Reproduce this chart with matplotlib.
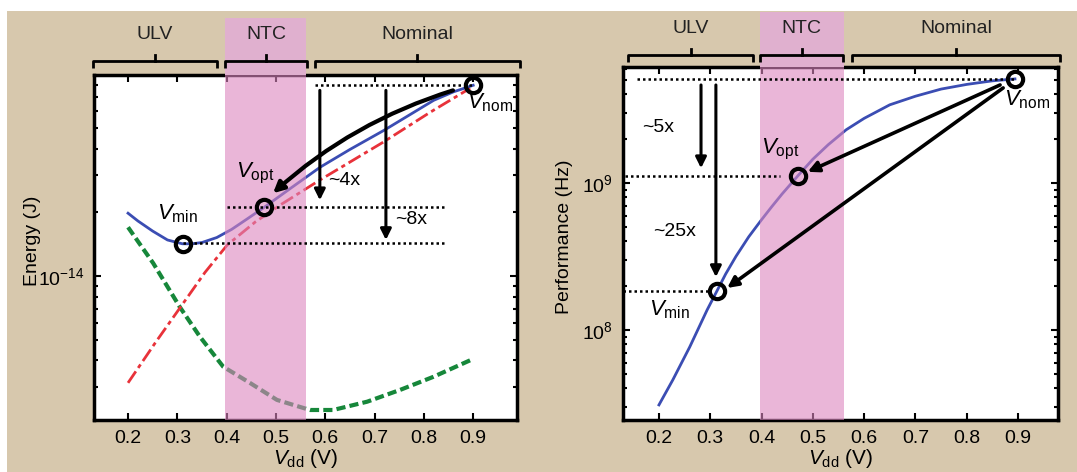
import matplotlib.pyplot as plt
from matplotlib.patches import Rectangle
from matplotlib.ticker import NullFormatter

plt.rcParams['font.family'] = ['Liberation Sans', 'DejaVu Sans']
plt.rcParams['mathtext.fontset'] = 'custom'
plt.rcParams['mathtext.rm'] = 'Liberation Sans'
plt.rcParams['mathtext.it'] = 'Liberation Sans:italic'
plt.rcParams['font.size'] = 14

# energy panel
vdd_total = [0.2, 0.22, 0.25, 0.28, 0.31, 0.33, 0.35, 0.38, 0.41, 0.44, 0.476, 0.53,
             0.59, 0.65, 0.72, 0.82, 0.86, 0.9]
e_total = [1.98e-14, 1.82e-14, 1.63e-14, 1.48e-14, 1.42e-14, 1.42e-14, 1.44e-14,
           1.52e-14, 1.66e-14, 1.85e-14, 2.11e-14, 2.60e-14, 3.27e-14, 3.96e-14,
           4.89e-14, 6.76e-14, 7.41e-14, 7.96e-14]
vdd_dyn = [0.2, 0.255, 0.305, 0.356, 0.401, 0.458, 0.508, 0.589, 0.717, 0.813, 0.894]
e_dyn = [3.13e-15, 4.83e-15, 7.06e-15, 1.04e-14, 1.40e-14, 1.80e-14, 2.16e-14,
         2.84e-14, 4.28e-14, 5.94e-14, 7.71e-14]
vdd_leak = [0.2, 0.251, 0.305, 0.346, 0.393, 0.447, 0.502, 0.569, 0.616, 0.685,
            0.752, 0.819, 0.9]
e_leak = [1.70e-14, 1.15e-14, 7.14e-15, 5.16e-15, 3.73e-15, 3.13e-15, 2.60e-15,
          2.33e-15, 2.33e-15, 2.55e-15, 2.90e-15, 3.34e-15, 4.06e-15]

# energy operating points: Vmin, Vopt, Vnom
e_pts_v = [0.311, 0.476, 0.9]
e_pts_e = [1.42e-14, 2.11e-14, 7.96e-14]

# performance panel
vdd_perf = [0.2, 0.227, 0.26, 0.294, 0.313, 0.33, 0.35, 0.375, 0.40, 0.42, 0.44,
            0.471, 0.5, 0.53, 0.565, 0.6, 0.65, 0.7, 0.75, 0.8, 0.85, 0.894]
perf = [3.09e7, 4.57e7, 7.66e7, 1.37e8, 1.84e8, 2.40e8, 3.16e8, 4.30e8, 5.62e8,
        6.90e8, 8.41e8, 1.12e9, 1.45e9, 1.82e9, 2.30e9, 2.75e9, 3.40e9, 3.89e9,
        4.35e9, 4.68e9, 4.95e9, 5.1e9]
p_pts_v = [0.313, 0.471, 0.894]
p_pts_f = [1.84e8, 1.12e9, 5.1e9]

regions = ['ULV', 'NTC', 'Nominal']
ntc_band = (0.397, 0.56)

PINK = '#dc86bf'
PINK_TOP = '#e0b0cf'
BLUE = '#3b4db3'
RED = '#e8323a'
GREEN = '#16873a'
TAN = '#d7c8ad'

fig = plt.figure(figsize=(10.77, 4.72), dpi=100)
fig.patch.set_facecolor('white')
fig.patches.append(Rectangle((7 / 1077, 0), 1, 461 / 472, transform=fig.transFigure,
                             facecolor=TAN, edgecolor='none', zorder=-10))

ax1 = fig.add_axes([0.0873, 0.1102, 0.3928, 0.7309])
ax2 = fig.add_axes([0.5785, 0.1102, 0.4039, 0.7479])


def style_axes(ax, xlim):
    ax.set_yscale('log')
    ax.set_xlim(*xlim)
    ax.set_xticks([0.2, 0.3, 0.4, 0.5, 0.6, 0.7, 0.8, 0.9])
    ax.set_xticklabels(['0.2', '0.3', '0.4', '0.5', '0.6', '0.7', '0.8', '0.9'])
    ax.yaxis.set_minor_formatter(NullFormatter())
    ax.tick_params(which='both', direction='in', top=True, right=True, width=1.5,
                   labelsize=14, pad=7)
    ax.tick_params(which='major', length=5)
    ax.tick_params(which='minor', length=3)
    for s in ax.spines.values():
        s.set_linewidth(2.5)
    ax.set_xlabel(r'$V_{\rm dd}$ (V)', fontsize=15, labelpad=0)


def band(ax, top):
    ax.axvspan(*ntc_band, ymin=0, ymax=1, color=PINK, alpha=0.6, lw=0, zorder=5)
    ax.axvspan(*ntc_band, ymin=1, ymax=top, color=PINK_TOP, lw=0,
               clip_on=False, zorder=5)


def brackets(ax, spans, y_line, y_hook, y_tip, y_text):
    tr = ax.get_xaxis_transform()
    for name, (a, b) in zip(regions, spans):
        m = (a + b) / 2
        ax.plot([a, a, b, b], [y_hook, y_line, y_line, y_hook], color='k', lw=2,
                transform=tr, clip_on=False, solid_capstyle='butt', zorder=9)
        ax.plot([m, m], [y_line, y_tip], color='k', lw=2, transform=tr,
                clip_on=False, zorder=9)
        ax.text(m, y_text, name, transform=tr, ha='center', va='center', fontsize=14,
                color='#222222', zorder=9)


def dotted(ax, x0, x1, y):
    ax.plot([x0, x1], [y, y], color='k', lw=1.8, ls=(0, (1, 1.2)), zorder=6)


def arrow(ax, start, end, rad=0.0, lw=2.2):
    ax.annotate('', xy=end, xytext=start,
                arrowprops=dict(arrowstyle='-|>', color='k', lw=lw, mutation_scale=16,
                                shrinkA=0, shrinkB=0,
                                connectionstyle='arc3,rad=%s' % rad), zorder=7)


def vlabel(ax, x, y, sub):
    ax.text(x, y, r'$V_{\rm %s}$' % sub, ha='center', va='center', fontsize=16,
            zorder=9)


# ---- left: energy ----
style_axes(ax1, (0.131, 0.989))
ax1.set_ylim(2.09e-15, 8.9e-14)
ax1.plot(vdd_leak, e_leak, color=GREEN, lw=3, ls=(0, (2.2, 1.0)), zorder=3)
ax1.plot(vdd_dyn, e_dyn, color=RED, lw=2, ls=(0, (5, 1.5, 1.5, 1.5)), zorder=3)
ax1.plot(vdd_total, e_total, color=BLUE, lw=2, zorder=4)
band(ax1, 1.165)

dotted(ax1, 0.579, 0.9, e_pts_e[2])
dotted(ax1, 0.401, 0.843, e_pts_e[1])
dotted(ax1, 0.311, 0.843, 1.43e-14)
arrow(ax1, (0.589, 7.53e-14), (0.589, 2.28e-14))
arrow(ax1, (0.723, 7.53e-14), (0.723, 1.48e-14))
arrow(ax1, (0.859, 7.53e-14), (0.494, 2.46e-14), rad=0.11, lw=3)
ax1.text(0.606, 2.84e-14, '~4x', ha='left', va='center', fontsize=14, zorder=9)
ax1.text(0.742, 1.84e-14, '~8x', ha='left', va='center', fontsize=14, zorder=9)
ax1.plot(e_pts_v, e_pts_e, 'o', ms=11, mfc='none', mec='k', mew=3, zorder=8)
vlabel(ax1, 0.301, 1.98e-14, 'min')
vlabel(ax1, 0.458, 3.06e-14, 'opt')
vlabel(ax1, 0.934, 6.55e-14, 'nom')
ax1.set_ylabel('Energy (J)', fontsize=14)
ax1.yaxis.set_label_coords(-0.125, 0.52)
brackets(ax1, [(0.129, 0.381), (0.397, 0.563), (0.579, 0.995)],
         1.041, 1.020, 1.058, 1.116)

# ---- right: performance ----
style_axes(ax2, (0.130, 0.978))
ax2.set_ylim(2.44e7, 6.15e9)
ax2.plot(vdd_perf, perf, color=BLUE, lw=2, zorder=4)
band(ax2, 1.156)
dotted(ax2, 0.157, 0.894, p_pts_f[2])
dotted(ax2, 0.134, 0.436, p_pts_f[1])
dotted(ax2, 0.130, 0.300, p_pts_f[0])
arrow(ax2, (0.282, 4.64e9), (0.282, 1.26e9))
arrow(ax2, (0.311, 4.64e9), (0.311, 2.29e8))
arrow(ax2, (0.865, 4.64e9), (0.490, 1.19e9), lw=2.6)
arrow(ax2, (0.871, 4.43e9), (0.333, 1.93e8), lw=2.6)
ax2.text(0.198, 2.40e9, '~5x', ha='center', va='center', fontsize=14, zorder=9)
ax2.text(0.231, 4.64e8, '~25x', ha='center', va='center', fontsize=14, zorder=9)
ax2.plot(p_pts_v, p_pts_f, 'o', ms=11, mfc='none', mec='k', mew=3, zorder=8)
vlabel(ax2, 0.221, 1.37e8, 'min')
vlabel(ax2, 0.436, 1.68e9, 'opt')
vlabel(ax2, 0.917, 3.67e9, 'nom')
ax2.set_ylabel('Performance (Hz)', fontsize=14)
ax2.yaxis.set_label_coords(-0.115, 0.52)
brackets(ax2, [(0.140, 0.383), (0.397, 0.559), (0.576, 0.982)],
         1.034, 1.014, 1.051, 1.110)

fig.savefig('out.png', dpi=100, facecolor=fig.get_facecolor())
